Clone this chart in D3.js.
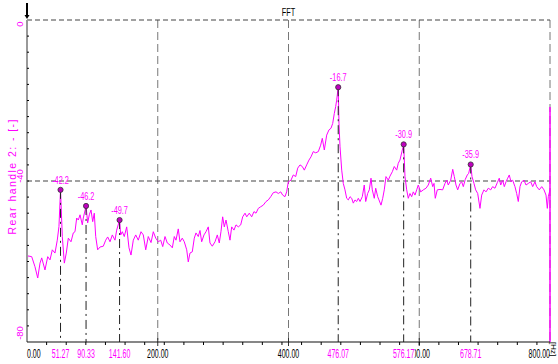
<!DOCTYPE html>
<meta charset="utf-8">

<!-- Load d3.js -->
<script src="https://d3js.org/d3.v7.min.js"></script>
<style>body{margin:0;background:#fff}</style>

<!-- Create a div where the graph will take place -->
<div id="my_dataviz"></div>

<script>

// spectrum: frequency [Hz] and level
var freq = [
  0, 1, 7.2, 12.2, 16.4, 19.9, 22.5, 27.5, 31.7, 35.2,
  38.7, 42.8, 46.3, 48.9, 51.27, 54.0, 57.1, 60.1, 63.2, 67.3,
  70.8, 73.4, 76.0, 78.5, 81.1, 84.6, 86.1, 90.33, 92.8, 95.3,
  97.9, 100.5, 102.9, 105.1, 108.1, 111.7, 116.7, 120.4, 123.4, 127.0,
  130.5, 134.6, 137.2, 141.6, 143.3, 145.8, 148.8, 152.5, 156.0, 159.1,
  162.6, 166.3, 170.2, 174.4, 177.9, 181.6, 185.5, 189.7, 193.2, 196.9,
  200.8, 204.5, 207.6, 211.1, 214.6, 218.7, 222.3, 225.3, 227.9, 231.4,
  234.0, 237.5, 240.6, 244.3, 246.7, 249.3, 252.8, 255.9, 258.5, 262.0,
  264.6, 267.2, 270.7, 273.8, 277.3, 279.9, 283.4, 287.6, 291.1, 294.1,
  296.7, 299.3, 301.8, 304.4, 307.9, 310.5, 313.1, 316.6, 319.7, 323.2,
  326.9, 329.9, 333.5, 336.1, 340.0, 343.7, 347.2, 350.3, 353.8, 357.5,
  361.4, 365.6, 369.1, 372.8, 376.7, 380.9, 384.4, 388.1, 391.1, 394.6,
  397.2, 399.7, 403.8, 407.3, 411.0, 414.1, 417.6, 421.1, 424.2, 427.8,
  431.3, 434.4, 437.9, 441.6, 445.6, 449.2, 451.7, 454.8, 458.4, 461.9,
  465.0, 467.6, 470.1, 472.2, 473.7, 476.07, 477.2, 478.8, 481.4, 483.8,
  486.4, 489.0, 491.5, 494.1, 496.7, 499.1, 501.7, 504.3, 506.8, 509.4,
  512.9, 515.9, 518.1, 521.1, 523.6, 526.2, 528.2, 531.2, 533.4, 536.4,
  538.4, 541.5, 544.1, 546.5, 549.1, 552.7, 555.2, 558.8, 561.8, 565.5,
  567.9, 570.5, 574.1, 576.17, 578.2, 580.8, 583.2, 585.8, 588.4, 590.9,
  593.5, 596.1, 598.5, 602.2, 606.2, 610.3, 613.8, 617.5, 620.6, 622.6,
  624.5, 627.6, 631.7, 635.8, 639.4, 642.0, 644.4, 648.1, 651.2, 653.6,
  656.2, 658.8, 662.3, 664.9, 667.4, 670.4, 673.5, 675.6, 678.71, 680.7,
  683.7, 686.3, 689.4, 692.9, 695.5, 699.0, 702.1, 705.6, 709.3, 712.3,
  715.8, 719.4, 722.4, 724.6, 727.6, 730.1, 732.7, 735.3, 737.7, 740.3,
  742.9, 746.4, 749.0, 751.5, 754.1, 756.7, 760.2, 763.3, 766.8, 770.5,
  773.5, 777.0, 779.6, 783.6, 787.3, 790.8, 793.9, 795.9, 797.4, 800
];
var level = [
  -63.4, -58.6, -58.8, -61.3, -64.1, -60.4, -59.1, -62.1, -58.8, -59.6,
  -57.1, -57.9, -54.7, -51.3, -42.2, -53.8, -60.4, -57.9, -54.2, -55.1,
  -52.9, -52.6, -49.2, -49.7, -48.4, -50.9, -49.2, -46.2, -50.4, -48.4,
  -47.2, -50.1, -48.0, -53.8, -57.1, -56.4, -56.2, -54.7, -53.9, -55.1,
  -53.4, -54.7, -52.2, -49.7, -53.4, -52.6, -53.8, -51.4, -56.6, -58.4,
  -54.7, -53.4, -54.7, -52.6, -53.4, -57.1, -53.8, -55.3, -52.6, -54.2,
  -55.1, -54.7, -56.3, -53.8, -55.4, -55.9, -56.6, -53.8, -54.7, -51.9,
  -55.1, -54.2, -55.1, -57.1, -60.1, -57.9, -57.6, -54.2, -52.9, -53.8,
  -52.3, -55.1, -53.4, -52.6, -51.4, -55.4, -56.2, -55.1, -53.4, -55.4,
  -52.6, -48.9, -51.4, -49.7, -52.6, -54.7, -51.4, -52.2, -50.9, -51.4,
  -50.9, -48.9, -48.0, -48.9, -48.0, -48.9, -47.6, -48.0, -46.8, -46.4,
  -46.0, -45.1, -44.7, -43.9, -42.9, -42.7, -43.1, -42.7, -43.5, -43.9,
  -42.7, -40.2, -39.8, -38.5, -38.9, -36.8, -36.0, -36.4, -37.3, -36.0,
  -34.8, -34.0, -32.7, -33.0, -32.7, -31.1, -29.4, -32.3, -28.6, -27.3,
  -26.9, -25.7, -23.2, -21.5, -19.9, -16.7, -25.7, -31.5, -37.3, -40.6,
  -42.2, -44.3, -44.7, -43.9, -44.3, -45.5, -44.7, -45.1, -44.3, -45.1,
  -43.9, -41.0, -45.1, -43.1, -42.2, -39.3, -42.2, -44.3, -41.8, -43.9,
  -44.7, -46.0, -44.3, -42.2, -38.9, -39.8, -38.8, -37.7, -36.4, -37.3,
  -35.6, -34.8, -32.3, -30.9, -38.9, -42.2, -44.3, -43.1, -43.9, -42.7,
  -43.5, -42.2, -41.0, -42.7, -42.2, -41.8, -41.0, -39.3, -41.4, -40.6,
  -44.3, -42.2, -42.1, -42.2, -40.6, -39.8, -41.0, -39.8, -37.1, -38.9,
  -41.0, -42.2, -40.6, -40.2, -41.4, -39.6, -38.5, -38.1, -35.9, -38.9,
  -40.6, -42.2, -43.1, -46.8, -43.5, -42.2, -42.7, -41.8, -42.2, -41.4,
  -41.8, -40.4, -39.3, -41.0, -39.8, -41.4, -40.2, -39.3, -38.5, -40.2,
  -39.8, -41.4, -43.1, -45.1, -41.4, -40.2, -39.8, -41.0, -40.6, -40.2,
  -41.4, -40.2, -41.4, -42.2, -41.4, -42.2, -43.5, -46.8, -43.9, -42.2
];

// marked peaks
var peakFreq  = [51.27, 90.33, 141.60, 476.07, 576.17, 678.71];
var peakLevel = [-42.2, -46.2, -49.7, -16.7, -30.9, -35.9];

// axes
var xTicks = [0, 200, 400, 600, 800];
var yTicks = [0, -40, -80];
var gridLevels = [0, -40];

// cursor at the right edge
var cursorFreq = 800, cursorTop = -21.6;

var W = 558, H = 364;
var magenta = "#ff00ff";

var svg = d3.select("#my_dataviz")
  .append("svg")
    .attr("width", W)
    .attr("height", H)
    .style("display", "block");

var x = d3.scaleLinear().domain([0, 800]).range([27, 550]);
var y = d3.scaleLinear().domain([-80, 0]).range([342, 20]);

// narrow labels, like the original condensed font
function label(g, tx, ty, txt, size, anchor, color, sx) {
  return g.append("text")
    .attr("transform", "translate(" + tx + "," + ty + ") scale(" + sx + ",1)")
    .attr("text-anchor", anchor)
    .attr("font-family", "Liberation Sans, Arial, sans-serif")
    .attr("font-size", size)
    .attr("fill", color)
    .text(txt);
}

// vertical grid (dashed)
svg.append("g").selectAll("line")
  .data(xTicks.filter(function(d) { return d > 0; }))
  .enter().append("line")
    .attr("x1", function(d) { return x(d); })
    .attr("x2", function(d) { return x(d); })
    .attr("y1", y(0)).attr("y2", y(-80))
    .attr("stroke", "#777")
    .attr("stroke-width", 1)
    .attr("stroke-dasharray", "8,4");

// horizontal grid (dashed)
svg.append("g").selectAll("line")
  .data(gridLevels)
  .enter().append("line")
    .attr("x1", x(0)).attr("x2", x(800))
    .attr("y1", function(d) { return y(d); })
    .attr("y2", function(d) { return y(d); })
    .attr("stroke", "#444")
    .attr("stroke-width", 1.2)
    .attr("stroke-dasharray", "5,3");

// short solid stubs of major x ticks above the axis
svg.append("g").selectAll("line")
  .data(xTicks.filter(function(d) { return d > 0 && d < 800; }))
  .enter().append("line")
    .attr("x1", function(d) { return x(d); })
    .attr("x2", function(d) { return x(d); })
    .attr("y1", y(-80) - 4).attr("y2", y(-80) + 4)
    .attr("stroke", "#333");

// the spectrum
var data = freq.map(function(f, i) { return {x: f, y: level[i]}; });
svg.append("path")
  .datum(data)
  .attr("fill", "none")
  .attr("stroke", magenta)
  .attr("stroke-width", 1)
  .attr("d", d3.line()
    .x(function(d) { return x(d.x); })
    .y(function(d) { return y(d.y); }));

// cursor line
svg.append("line")
  .attr("x1", x(cursorFreq)).attr("x2", x(cursorFreq))
  .attr("y1", y(cursorTop)).attr("y2", y(-80))
  .attr("stroke", magenta)
  .attr("stroke-width", 1.5);

// peak markers: dash-dot drop lines, dots
var peaks = peakFreq.map(function(f, i) { return {f: f, v: peakLevel[i]}; });
svg.append("g").selectAll("line")
  .data(peaks)
  .enter().append("line")
    .attr("x1", function(d) { return x(d.f); })
    .attr("x2", function(d) { return x(d.f); })
    .attr("y1", function(d) { return y(d.v); })
    .attr("y2", y(-80))
    .attr("stroke", "#222")
    .attr("stroke-width", 1)
    .attr("stroke-dasharray", "9,4,2,4");

svg.append("g").selectAll("circle")
  .data(peaks)
  .enter().append("circle")
    .attr("cx", function(d) { return x(d.f); })
    .attr("cy", function(d) { return y(d.v); })
    .attr("r", 2.6)
    .attr("fill", "#c000c0")
    .attr("stroke", "#333")
    .attr("stroke-width", 0.8);

var peakLab = svg.append("g");
peaks.forEach(function(d) {
  label(peakLab, x(d.f), y(d.v) - 6, d.v.toFixed(1), 10.5, "middle", magenta, 0.7);
});

// axes lines
svg.append("line")
  .attr("x1", x(0)).attr("x2", x(0))
  .attr("y1", y(0)).attr("y2", y(-80))
  .attr("stroke", "#999").attr("stroke-width", 2);
svg.append("line")
  .attr("x1", x(0)).attr("x2", x(800))
  .attr("y1", y(-80)).attr("y2", y(-80))
  .attr("stroke", "#111").attr("stroke-width", 1.2);

// arrow on top of the y axis
svg.append("line")
  .attr("x1", x(0)).attr("x2", x(0))
  .attr("y1", 3).attr("y2", y(0) - 4)
  .attr("stroke", "#000").attr("stroke-width", 2);
svg.append("path")
  .attr("d", "M" + (x(0) - 2.5) + "," + (y(0) - 5) + "L" + (x(0) + 2.5) + "," + (y(0) - 5) + "L" + x(0) + "," + (y(0) - 1) + "Z")
  .attr("fill", "#000");

// minor ticks
svg.append("g").selectAll("line")
  .data(d3.range(-76, 0, 4))
  .enter().append("line")
    .attr("x1", x(0)).attr("x2", x(0) + 2)
    .attr("y1", function(d) { return y(d); })
    .attr("y2", function(d) { return y(d); })
    .attr("stroke", "#000");
svg.append("g").selectAll("line")
  .data(d3.range(30, 800, 30))
  .enter().append("line")
    .attr("x1", function(d) { return x(d); })
    .attr("x2", function(d) { return x(d); })
    .attr("y1", y(-80)).attr("y2", y(-80) + 3)
    .attr("stroke", "#000");

// x tick labels
var xLab = svg.append("g");
xTicks.forEach(function(t) {
  var anchor = t === 0 ? "start" : (t === 800 ? "end" : "middle");
  label(xLab, x(t), 358, t.toFixed(2), 12.5, anchor, "#000", 0.56);
});

// peak frequency labels, on white so they cover the tick labels
peaks.forEach(function(d) {
  xLab.append("rect")
    .attr("x", x(d.f) - 11).attr("y", 347)
    .attr("width", 22).attr("height", 13)
    .attr("fill", "#fff");
  label(xLab, x(d.f), 358, d.f.toFixed(2), 12.5, "middle", magenta, 0.56);
});

// y tick labels (rotated)
yTicks.forEach(function(t) {
  var cy = Math.min(Math.max(y(t) - 5, 24), 333);
  svg.append("text")
    .attr("transform", "translate(23," + cy + ") rotate(-90)")
    .attr("text-anchor", "middle")
    .attr("font-family", "Liberation Sans, Arial, sans-serif")
    .attr("font-size", 9.5)
    .attr("fill", magenta)
    .text(t);
});

// y axis title
svg.append("text")
  .attr("transform", "translate(16,177) rotate(-90)")
  .attr("text-anchor", "middle")
  .attr("font-family", "Liberation Sans, Arial, sans-serif")
  .attr("font-size", 10.5)
  .attr("fill", magenta)
  .attr("textLength", 115)
  .attr("lengthAdjust", "spacing")
  .text("Rear handle 2: - [-]");

// unit at the right end of x axis
svg.append("text")
  .attr("transform", "translate(550.5,349) rotate(90)")
  .attr("text-anchor", "middle")
  .attr("font-family", "Liberation Sans, Arial, sans-serif")
  .attr("font-size", 8)
  .attr("fill", "#000")
  .text("[Hz]");

// title
label(svg, x(400), 16, "FFT", 10.5, "middle", "#000", 0.7);

</script>
